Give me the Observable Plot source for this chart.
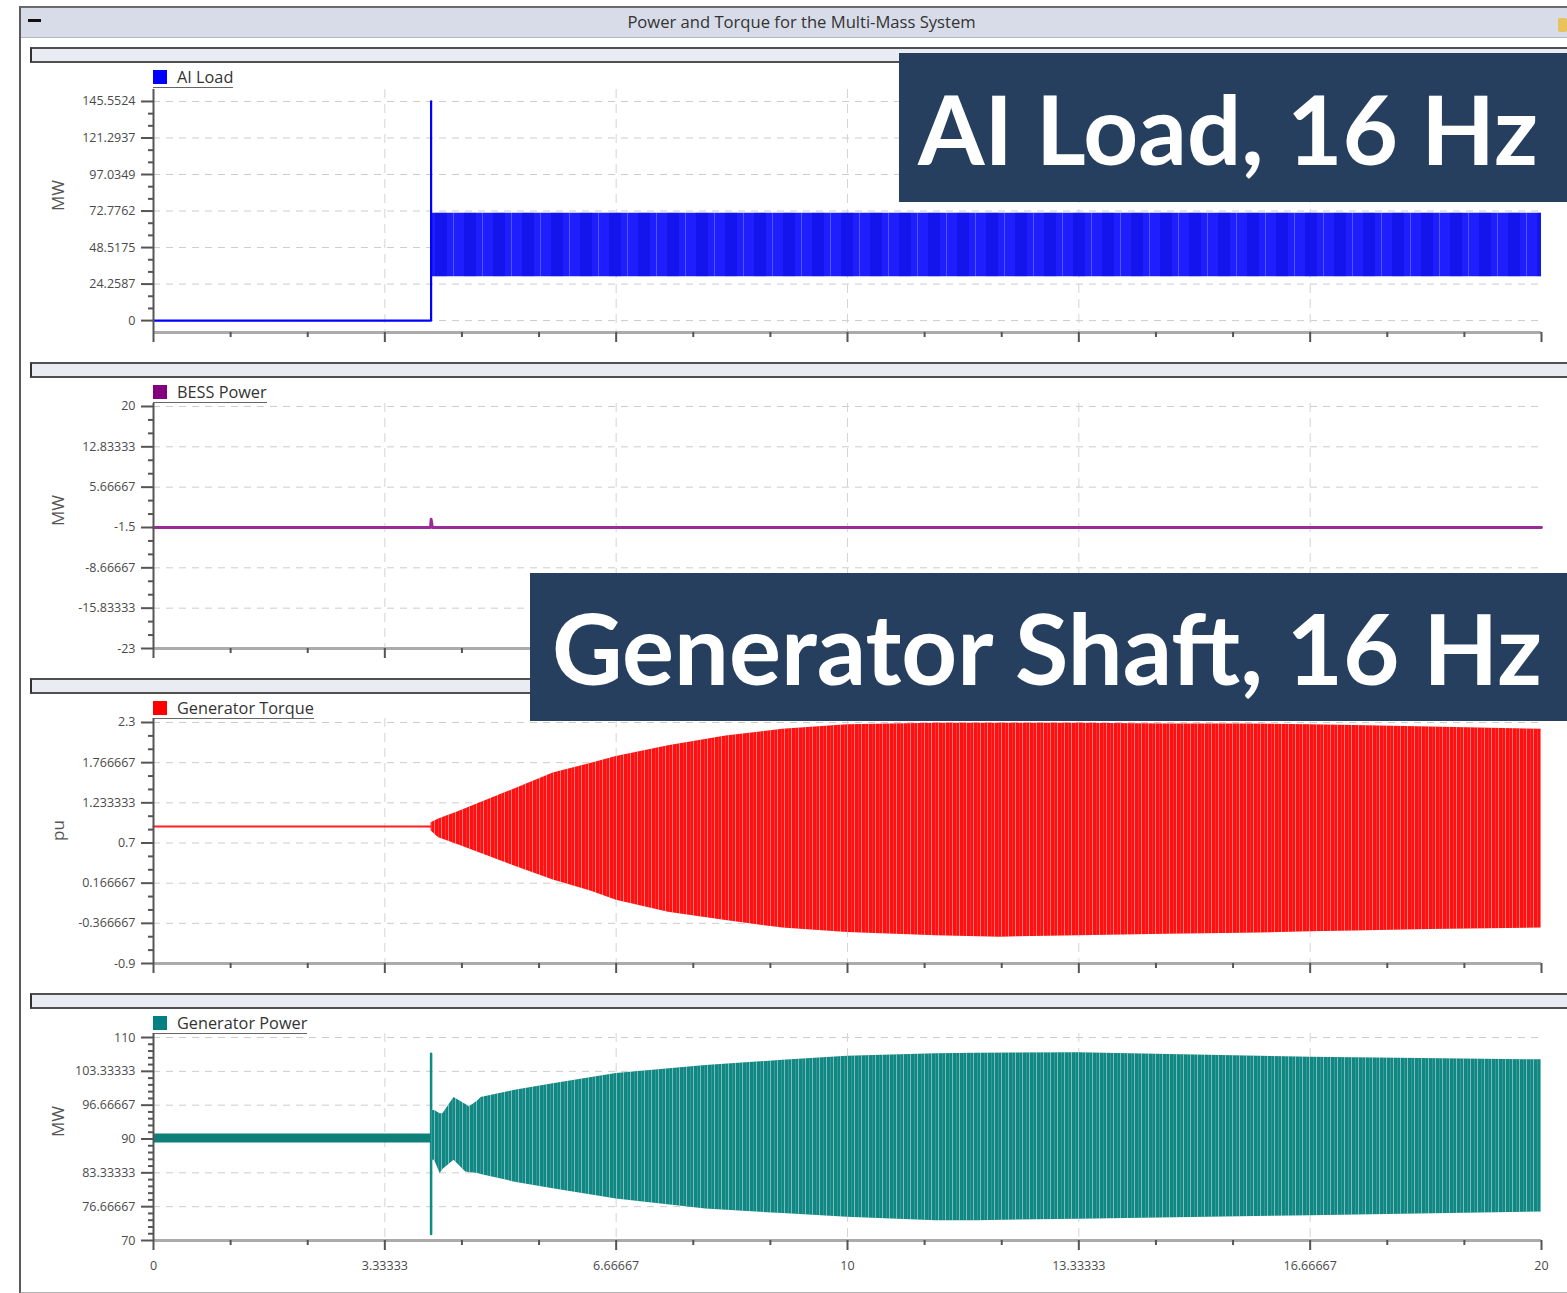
<!DOCTYPE html>
<html>
<head>
<meta charset="utf-8">
<script src="https://cdn.jsdelivr.net/npm/d3@7"></script>
<script src="https://cdn.jsdelivr.net/npm/@observablehq/plot@0.6"></script>
<style>
  body { margin: 0; background: #fff; font-family: "Open Sans", "DejaVu Sans", sans-serif; }
  #page { position: relative; width: 1567px; height: 1293px; overflow: hidden; background: #fff; }
  .abs { position: absolute; }
  .bar { position: absolute; left: 30px; width: 1600px; height: 12px; background: #e9ecf3;
         border-top: 2px solid #505050; border-bottom: 2px solid #505050; border-left: 2px solid #303030; }
  .legend { position: absolute; left: 153px; height: 18px; font-size: 16.3px; color: #333; white-space: nowrap;
            border-bottom: 1.5px solid #666; line-height: 16px; }
  .legend span.sw { display: inline-block; width: 14px; height: 14px; vertical-align: -1px; margin-right: 10px; }
</style>
</head>
<body>
<svg width="0" height="0" style="position:absolute">
  <defs>
    <pattern id="streaks" patternUnits="userSpaceOnUse" width="7" height="10">
      <rect x="0" y="0" width="1" height="10" fill="#fff" fill-opacity="0.45"/>
      <rect x="4" y="0" width="0.6" height="10" fill="#fff" fill-opacity="0.25"/>
    </pattern>
    <pattern id="beats" patternUnits="userSpaceOnUse" width="29" height="10">
      <rect x="0" y="0" width="12" height="10" fill="#0000c8" fill-opacity="0.35"/>
      <rect x="18" y="0" width="1" height="10" fill="#fff" fill-opacity="0.25"/>
    </pattern>
  </defs>
</svg>
<div id="page"></div>
<script>
// ---------------- data ----------------
const xMajorTicks = [0, 3.33333, 6.66667, 10, 13.33333, 16.66667, 20];
const xMajorLabels = ["0", "3.33333", "6.66667", "10", "13.33333", "16.66667", "20"];

// Panel 1: AI Load (MW)
const aiLoadTicks = [0, 24.2587, 48.5175, 72.7762, 97.0349, 121.2937, 145.5524];
const aiLoadStepT = [0, 4.0, 4.0, 4.0];
const aiLoadStepV = [0, 0, 145.55, 71.3];
const aiLoadBandT = [4.0, 8, 12, 16, 20];
const aiLoadBandHi = [71.3, 71.3, 71.3, 71.3, 71.3];
const aiLoadBandLo = [29.2, 29.2, 29.2, 29.2, 29.2];

// Panel 2: BESS Power (MW)
const bessTicks = [-23, -15.83333, -8.66667, -1.5, 5.66667, 12.83333, 20];
const bessT = [0, 3.99, 4.0, 4.02, 20];
const bessV = [-1.5, -1.5, 0.0, -1.5, -1.5];

// Panel 3: Generator Torque (pu)
const torqueTicks = [-0.9, -0.366667, 0.166667, 0.7, 1.233333, 1.766667, 2.3];
const torqueFlatT = [0, 4.0];
const torqueFlatV = [0.92, 0.92];
const torqueEnvT  = [4.0, 4.11, 4.38, 5.21, 5.76, 6.31, 6.67, 7.42, 8.25, 9.07, 10.0, 11.28, 12.2, 13.33, 14.6, 15.7, 16.67, 17.3, 18.4, 20];
const torqueUpper = [0.97, 1.02, 1.11, 1.42, 1.63, 1.76, 1.85, 1.99, 2.12, 2.21, 2.27, 2.29, 2.29, 2.29, 2.28, 2.28, 2.27, 2.26, 2.24, 2.21];
const torqueLower = [0.86, 0.77, 0.68, 0.39, 0.21, 0.06, -0.06, -0.22, -0.33, -0.43, -0.49, -0.53, -0.55, -0.53, -0.51, -0.50, -0.48, -0.47, -0.45, -0.43];

// Panel 4: Generator Power (MW)
const powerTicks = [70, 76.66667, 83.33333, 90, 96.66667, 103.33333, 110];
const powerFlatT = [0, 4.0];
const powerFlatHi = [91.0, 91.0];
const powerFlatLo = [89.2, 89.2];
const powerSpikeT = [4.0, 4.0];
const powerSpikeV = [71.3, 106.8];
const powerEnvT  = [4.0, 4.05, 4.13, 4.17, 4.33, 4.5, 4.55, 4.68, 4.72, 5.21, 5.76, 6.67, 7.96, 9.07, 10.0, 11.28, 11.86, 13.33, 16.67, 20];
const powerUpper = [95.6, 95.6, 95.0, 95.0, 98.2, 96.8, 96.3, 97.6, 98.2, 99.6, 100.9, 102.9, 104.5, 105.5, 106.3, 106.8, 106.9, 107.0, 106.1, 105.6];
const powerLower = [85.8, 85.8, 83.2, 84.0, 85.8, 83.5, 83.4, 83.2, 83.0, 81.5, 80.2, 78.2, 76.2, 75.3, 74.6, 73.9, 73.9, 74.2, 74.9, 75.6];

// ---------------- helpers ----------------
const page = document.getElementById("page");
function add(html) { page.insertAdjacentHTML("beforeend", html); }
const pts = (T, V) => T.map((t, i) => ({t, v: V[i]}));
const band = (T, H, L) => T.map((t, i) => ({t, hi: H[i], lo: L[i]}));

function minors(ticks, n) {
  const out = [];
  for (let i = 0; i < ticks.length - 1; i++)
    for (let k = 1; k <= n; k++) out.push(ticks[i] + (ticks[i + 1] - ticks[i]) * k / (n + 1));
  return out;
}
const xMinor = minors(xMajorTicks, 2);
const FONT = "'Open Sans', 'DejaVu Sans', sans-serif";

function panel({top, height, mt, mb, domain, ticks, nMinor, yLabel, marks, xLabels}) {
  const chart = Plot.plot({
    width: 1567, height,
    marginLeft: 153, marginRight: 26, marginTop: mt, marginBottom: mb,
    x: {domain: [0, 20], axis: null},
    y: {domain, axis: null},
    style: {fontFamily: FONT, fontSize: "12.5px", color: "#4a4a4a", background: "transparent", overflow: "visible"},
    marks: [
      Plot.gridY(ticks, {stroke: "#cccccc", strokeOpacity: 1, strokeDasharray: "7,6"}),
      Plot.gridX(xMajorTicks.slice(1, -1), {stroke: "#d4d4d4", strokeOpacity: 1, strokeDasharray: "9,6"}),
      ...marks,
      Plot.ruleY([domain[0]], {stroke: "#ababab", strokeWidth: 3}),
      Plot.ruleX([0], {stroke: "#555", strokeWidth: 2}),
      Plot.axisY(ticks, {tickSize: 12, tickPadding: 6, strokeWidth: 2, stroke: "#555",
        tickFormat: d => String(d), label: null}),
      Plot.axisY(minors(ticks, nMinor), {tickSize: 5, strokeWidth: 2, stroke: "#555",
        tickFormat: () => "", label: null}),
      Plot.axisX(xMajorTicks, {tickSize: 10, tickPadding: 11, strokeWidth: 2, stroke: "#555",
        tickFormat: xLabels ? ((d, i) => xMajorLabels[i]) : (() => ""), label: null}),
      Plot.axisX(xMinor, {tickSize: 5, strokeWidth: 2, stroke: "#555", tickFormat: () => "", label: null}),
      Plot.text([yLabel], {frameAnchor: "left", dx: -95, rotate: -90, fontSize: 17, fill: "#555"})
    ]
  });
  chart.style.position = "absolute";
  chart.style.left = "0px";
  chart.style.top = top + "px";
  page.appendChild(chart);
}

// ---------------- window chrome ----------------
add(`<div class="abs" style="left:19px;top:6px;width:1600px;height:1284px;border-left:2px solid #5a5a5a;border-top:2px solid #6a6a6a;border-bottom:2px solid #b0b0b0;"></div>`);
add(`<div class="abs" style="left:21px;top:8px;width:1600px;height:29px;background:#d7dce8;border-bottom:1px solid #aeb4c0;"></div>`);
add(`<div class="abs" style="left:28px;top:19px;width:13px;height:3px;background:#111;"></div>`);
add(`<div class="abs" style="left:0;width:1603px;top:10px;text-align:center;font-size:16.6px;color:#333;">Power and Torque for the Multi-Mass System</div>`);
add(`<div class="abs" style="left:1558px;top:18px;width:9px;height:14px;background:#e8c25a;border-radius:2px;"></div>`);

[47, 362, 678, 993].forEach(y => add(`<div class="bar" style="top:${y}px"></div>`));

// legends
const legends = [
  {top: 69, color: "#0000ff", text: "AI Load"},
  {top: 384, color: "#800080", text: "BESS Power"},
  {top: 700, color: "#ff0000", text: "Generator Torque"},
  {top: 1015, color: "#008080", text: "Generator Power"}
];
legends.forEach(l => add(`<div class="legend" style="top:${l.top}px"><span class="sw" style="background:${l.color}"></span>${l.text}</div>`));

// ---------------- panels ----------------
const aiBand = band(aiLoadBandT, aiLoadBandHi, aiLoadBandLo);
const tqBand = band(torqueEnvT, torqueUpper, torqueLower);
const pwBand = band(powerEnvT, powerUpper, powerLower);

panel({
  top: 62, height: 288, mt: 27, mb: 18, domain: [-7.9, 153.5], ticks: aiLoadTicks, nMinor: 2, yLabel: "MW",
  marks: [
    Plot.areaY(aiBand, {x: "t", y1: "lo", y2: "hi", fill: "#1e1eff"}),
    Plot.areaY(aiBand, {x: "t", y1: "lo", y2: "hi", fill: "url(#beats)"}),
    Plot.line(pts(aiLoadStepT, aiLoadStepV), {x: "t", y: "v", stroke: "#0000ff", strokeWidth: 2.2})
  ]
});

panel({
  top: 378, height: 290, mt: 25, mb: 20, domain: [-23, 20.53], ticks: bessTicks, nMinor: 2, yLabel: "MW",
  marks: [
    Plot.line(pts(bessT, bessV), {x: "t", y: "v", stroke: "#9a2c9a", strokeWidth: 2.8})
  ]
});

panel({
  top: 694, height: 291, mt: 24, mb: 22, domain: [-0.9, 2.353], ticks: torqueTicks, nMinor: 2, yLabel: "pu",
  marks: [
    Plot.line(pts(torqueFlatT, torqueFlatV), {x: "t", y: "v", stroke: "#ff2020", strokeWidth: 2}),
    Plot.areaY(tqBand, {x: "t", y1: "lo", y2: "hi", fill: "#ff1010"}),
    Plot.areaY(tqBand, {x: "t", y1: "lo", y2: "hi", fill: "url(#streaks)"})
  ]
});

panel({
  top: 1009, height: 281, mt: 24, mb: 50, domain: [70, 110.79], ticks: powerTicks, nMinor: 4, yLabel: "MW", xLabels: true,
  marks: [
    Plot.areaY(band(powerFlatT, powerFlatHi, powerFlatLo), {x: "t", y1: "lo", y2: "hi", fill: "#0f7f7a"}),
    Plot.line(pts(powerSpikeT, powerSpikeV), {x: "t", y: "v", stroke: "#138a85", strokeWidth: 2.5}),
    Plot.areaY(pwBand, {x: "t", y1: "lo", y2: "hi", fill: "#118783"}),
    Plot.areaY(pwBand, {x: "t", y1: "lo", y2: "hi", fill: "url(#streaks)"})
  ]
});

// ---------------- overlay annotations ----------------
function overlay(left, top, w, h, textX, baseline, targetWidth, label) {
  const ns = "http://www.w3.org/2000/svg";
  const svg = document.createElementNS(ns, "svg");
  svg.setAttribute("width", w); svg.setAttribute("height", h);
  svg.setAttribute("class", "abs");
  svg.style.left = left + "px"; svg.style.top = top + "px";
  const rect = document.createElementNS(ns, "rect");
  rect.setAttribute("width", w); rect.setAttribute("height", h); rect.setAttribute("fill", "#263f5f");
  svg.appendChild(rect);
  const text = document.createElementNS(ns, "text");
  text.setAttribute("x", textX); text.setAttribute("y", baseline);
  text.setAttribute("font-family", "Lato, 'Open Sans', sans-serif");
  text.setAttribute("font-weight", "700");
  text.setAttribute("font-size", "100");
  text.setAttribute("fill", "#fff");
  text.textContent = label;
  svg.appendChild(text);
  page.appendChild(svg);
  const measured = text.getComputedTextLength();
  if (measured > 0) text.setAttribute("font-size", (100 * targetWidth / measured).toFixed(2));
}
overlay(899, 53, 668, 149, 19, 112, 620, "AI Load, 16 Hz");
overlay(530, 573, 1037, 148, 22, 112, 990, "Generator Shaft, 16 Hz");
</script>
</body>
</html>
